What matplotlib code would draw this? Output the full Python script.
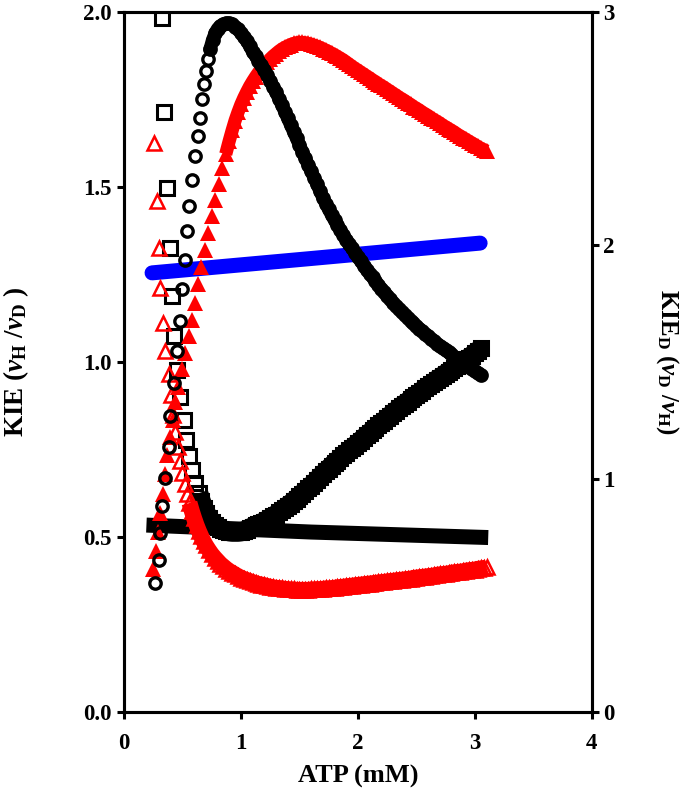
import matplotlib
matplotlib.use("Agg")
import matplotlib.pyplot as plt

plt.rcParams["font.family"] = ["Liberation Serif", "DejaVu Serif"]
plt.rcParams["font.weight"] = "bold"
plt.rcParams["mathtext.fontset"] = "custom"
plt.rcParams["mathtext.rm"] = "Liberation Serif:bold"
plt.rcParams["mathtext.it"] = "Liberation Serif:bold:italic"
plt.rcParams["mathtext.bf"] = "Liberation Serif:bold"

# KIE (vH/vD), open black circles
circ_x = [0.268, 0.296, 0.310, 0.325, 0.353, 0.381, 0.396, 0.424, 0.453, 0.475,
          0.496, 0.524, 0.538, 0.553, 0.585, 0.609, 0.630, 0.650, 0.665, 0.680,
          0.697, 0.715, 0.735, 0.757, 0.780,
          0.800, 0.825, 0.850, 0.875, 0.900, 0.925, 0.950, 0.975, 1.000, 1.025,
          1.050, 1.075, 1.100, 1.125, 1.150, 1.175, 1.200, 1.225, 1.250, 1.275,
          1.300, 1.325, 1.350, 1.375, 1.400, 1.425, 1.450, 1.475, 1.500, 1.525,
          1.550, 1.575, 1.600, 1.625, 1.650, 1.675, 1.700, 1.725, 1.750, 1.775,
          1.800, 1.825, 1.850, 1.875, 1.900, 1.925, 1.950, 1.975, 2.000, 2.025,
          2.050, 2.075, 2.100, 2.125, 2.150, 2.175, 2.200, 2.225, 2.250, 2.275,
          2.300, 2.325, 2.350, 2.375, 2.400, 2.425, 2.450, 2.475, 2.500, 2.525,
          2.550, 2.575, 2.600, 2.625, 2.650, 2.675, 2.700, 2.725, 2.750, 2.775,
          2.800, 2.825, 2.850, 2.875, 2.900, 2.925, 2.950, 2.975, 3.000, 3.025,
          3.050]
circ_y = [0.369, 0.436, 0.512, 0.588, 0.669, 0.759, 0.845, 0.940, 1.031, 1.117,
          1.208, 1.293, 1.374, 1.446, 1.520, 1.589, 1.646, 1.698, 1.751, 1.794,
          1.831, 1.865, 1.893, 1.920, 1.940,
          1.952, 1.960, 1.965, 1.968, 1.968, 1.965, 1.958, 1.950, 1.940, 1.929,
          1.917, 1.902, 1.886, 1.874, 1.861, 1.848, 1.835, 1.819, 1.803, 1.787,
          1.770, 1.752, 1.734, 1.715, 1.696, 1.677, 1.658, 1.639, 1.620, 1.601,
          1.582, 1.563, 1.545, 1.527, 1.508, 1.489, 1.470, 1.453, 1.436, 1.420,
          1.405, 1.391, 1.377, 1.363, 1.350, 1.337, 1.325, 1.312, 1.300, 1.288,
          1.276, 1.264, 1.253, 1.242, 1.231, 1.220, 1.210, 1.200, 1.190, 1.180,
          1.170, 1.161, 1.152, 1.143, 1.135, 1.127, 1.119, 1.111, 1.103, 1.096,
          1.088, 1.081, 1.074, 1.067, 1.060, 1.053, 1.047, 1.041, 1.034, 1.028,
          1.022, 1.016, 1.010, 1.004, 0.998, 0.992, 0.987, 0.981, 0.975, 0.970,
          0.964]

# reciprocal, open black squares
sq_x = [0.325, 0.344, 0.367, 0.396, 0.410, 0.424, 0.453, 0.481, 0.509, 0.530,
        0.553, 0.581, 0.609, 0.638, 0.660, 0.680, 0.700, 0.725, 0.750, 0.775,
        0.800, 0.825, 0.850, 0.875, 0.900, 0.925, 0.950, 0.975, 1.000, 1.025,
        1.050, 1.075, 1.100, 1.125, 1.150, 1.175, 1.200, 1.225, 1.250, 1.275,
        1.300, 1.325, 1.350, 1.375, 1.400, 1.425, 1.450, 1.475, 1.500, 1.525,
        1.550, 1.575, 1.600, 1.625, 1.650, 1.675, 1.700, 1.725, 1.750, 1.775,
        1.800, 1.825, 1.850, 1.875, 1.900, 1.925, 1.950, 1.975, 2.000, 2.025,
        2.050, 2.075, 2.100, 2.125, 2.150, 2.175, 2.200, 2.225, 2.250, 2.275,
        2.300, 2.325, 2.350, 2.375, 2.400, 2.425, 2.450, 2.475, 2.500, 2.525,
        2.550, 2.575, 2.600, 2.625, 2.650, 2.675, 2.700, 2.725, 2.750, 2.775,
        2.800, 2.825, 2.850, 2.875, 2.900, 2.925, 2.950, 2.975, 3.000, 3.025,
        3.050]
sq_y = [1.984, 1.713, 1.498, 1.327, 1.189, 1.074, 0.979, 0.902, 0.836, 0.779,
        0.731, 0.693, 0.655, 0.626, 0.603, 0.585, 0.570, 0.556, 0.545, 0.536,
        0.529, 0.524, 0.521, 0.518, 0.516, 0.515, 0.515, 0.515, 0.516, 0.518,
        0.522, 0.526, 0.530, 0.534, 0.537, 0.541, 0.545, 0.550, 0.555, 0.560,
        0.565, 0.571, 0.577, 0.583, 0.590, 0.596, 0.603, 0.610, 0.617, 0.625,
        0.632, 0.640, 0.647, 0.655, 0.663, 0.672, 0.680, 0.688, 0.696, 0.704,
        0.712, 0.719, 0.726, 0.734, 0.741, 0.748, 0.755, 0.762, 0.769, 0.776,
        0.784, 0.791, 0.798, 0.805, 0.812, 0.820, 0.826, 0.833, 0.840, 0.847,
        0.855, 0.861, 0.868, 0.875, 0.881, 0.887, 0.894, 0.900, 0.907, 0.912,
        0.919, 0.925, 0.931, 0.937, 0.943, 0.950, 0.955, 0.961, 0.967, 0.973,
        0.978, 0.984, 0.990, 0.996, 1.002, 1.008, 1.013, 1.019, 1.026, 1.031,
        1.040]

# filled red triangles
tri_x = [0.250, 0.270, 0.290, 0.310, 0.330, 0.350, 0.370, 0.390, 0.415, 0.440,
         0.465, 0.495, 0.525, 0.555, 0.580, 0.610, 0.635, 0.660, 0.690, 0.720,
         0.750, 0.780, 0.810, 0.840, 0.870, 0.900, 0.925, 0.950, 0.975, 1.000,
         1.025, 1.050, 1.075, 1.100, 1.125, 1.150, 1.175, 1.200, 1.225, 1.250,
         1.275, 1.300, 1.325, 1.350, 1.375, 1.400, 1.425, 1.450, 1.475, 1.500,
         1.525, 1.550, 1.575, 1.600, 1.625, 1.650, 1.675, 1.700, 1.725, 1.750,
         1.775, 1.800, 1.825, 1.850, 1.875, 1.900, 1.925, 1.950, 1.975, 2.000,
         2.025, 2.050, 2.075, 2.100, 2.125, 2.150, 2.175, 2.200, 2.225, 2.250,
         2.275, 2.300, 2.325, 2.350, 2.375, 2.400, 2.425, 2.450, 2.475, 2.500,
         2.525, 2.550, 2.575, 2.600, 2.625, 2.650, 2.675, 2.700, 2.725, 2.750,
         2.775, 2.800, 2.825, 2.850, 2.875, 2.900, 2.925, 2.950, 2.975, 3.000,
         3.025, 3.050, 3.075, 3.100]
tri_y = [0.410, 0.460, 0.515, 0.570, 0.625, 0.680, 0.735, 0.785, 0.835, 0.885,
         0.930, 0.980, 1.027, 1.075, 1.121, 1.170, 1.222, 1.272, 1.320, 1.368,
         1.416, 1.462, 1.510, 1.553, 1.594, 1.632, 1.662, 1.690, 1.714, 1.736,
         1.755, 1.772, 1.788, 1.802, 1.815, 1.827, 1.838, 1.848, 1.857, 1.866,
         1.874, 1.881, 1.888, 1.894, 1.899, 1.903, 1.907, 1.910, 1.912, 1.913,
         1.913, 1.912, 1.910, 1.908, 1.905, 1.902, 1.899, 1.895, 1.891, 1.887,
         1.882, 1.878, 1.873, 1.868, 1.863, 1.857, 1.851, 1.845, 1.839, 1.834,
         1.828, 1.823, 1.817, 1.812, 1.806, 1.801, 1.795, 1.790, 1.785, 1.779,
         1.774, 1.768, 1.763, 1.757, 1.752, 1.747, 1.741, 1.736, 1.730, 1.725,
         1.720, 1.714, 1.709, 1.704, 1.698, 1.693, 1.688, 1.683, 1.677, 1.672,
         1.667, 1.662, 1.657, 1.651, 1.646, 1.641, 1.636, 1.631, 1.626, 1.621,
         1.616, 1.611, 1.607, 1.603]

# reciprocal, open red triangles
otri_x = [0.259, 0.282, 0.296, 0.310, 0.333, 0.353, 0.381, 0.400, 0.420, 0.440,
          0.460, 0.480, 0.500, 0.520, 0.540, 0.560, 0.580, 0.600, 0.620, 0.640,
          0.660, 0.680, 0.700, 0.725, 0.750, 0.775, 0.800, 0.825, 0.850, 0.875,
          0.900, 0.925, 0.950, 0.975, 1.000, 1.025, 1.050, 1.075, 1.100, 1.125,
          1.150, 1.175, 1.200, 1.225, 1.250, 1.275, 1.300, 1.325, 1.350, 1.375,
          1.400, 1.425, 1.450, 1.475, 1.500, 1.525, 1.550, 1.575, 1.600, 1.625,
          1.650, 1.675, 1.700, 1.725, 1.750, 1.775, 1.800, 1.825, 1.850, 1.875,
          1.900, 1.925, 1.950, 1.975, 2.000, 2.025, 2.050, 2.075, 2.100, 2.125,
          2.150, 2.175, 2.200, 2.225, 2.250, 2.275, 2.300, 2.325, 2.350, 2.375,
          2.400, 2.425, 2.450, 2.475, 2.500, 2.525, 2.550, 2.575, 2.600, 2.625,
          2.650, 2.675, 2.700, 2.725, 2.750, 2.775, 2.800, 2.825, 2.850, 2.875,
          2.900, 2.925, 2.950, 2.975, 3.000, 3.025, 3.050, 3.075, 3.100]
otri_y = [1.627, 1.460, 1.327, 1.213, 1.112, 1.031, 0.965, 0.905, 0.850, 0.800,
          0.757, 0.718, 0.683, 0.652, 0.624, 0.598, 0.575, 0.554, 0.535, 0.518,
          0.503, 0.489, 0.477, 0.464, 0.452, 0.442, 0.433, 0.424, 0.417, 0.410,
          0.404, 0.399, 0.394, 0.389, 0.385, 0.381, 0.378, 0.375, 0.372, 0.369,
          0.367, 0.365, 0.363, 0.361, 0.359, 0.357, 0.356, 0.355, 0.354, 0.353,
          0.352, 0.351, 0.351, 0.350, 0.350, 0.350, 0.350, 0.350, 0.351, 0.351,
          0.352, 0.352, 0.353, 0.354, 0.354, 0.355, 0.356, 0.357, 0.358, 0.359,
          0.360, 0.361, 0.362, 0.363, 0.364, 0.365, 0.366, 0.367, 0.368, 0.369,
          0.370, 0.371, 0.372, 0.373, 0.374, 0.375, 0.376, 0.377, 0.378, 0.379,
          0.380, 0.381, 0.382, 0.384, 0.385, 0.386, 0.387, 0.388, 0.389, 0.390,
          0.391, 0.393, 0.394, 0.395, 0.396, 0.397, 0.399, 0.400, 0.401, 0.402,
          0.403, 0.405, 0.406, 0.407, 0.408, 0.410, 0.411, 0.412, 0.414]

# blue line and its reciprocal (black bar)
blue_x = [0.240, 1.600, 3.045]
blue_y = [1.255, 1.296, 1.340]
bar_x = [0.256, 1.600, 3.050]
bar_y = [0.534, 0.515, 0.500]

# where each marker series becomes a solid band
circ_band = 22
sq_band = 13
tri_band = 24
otri_band = 15

fig = plt.figure(figsize=(6.85, 7.96), dpi=100)
ax = fig.add_axes([0.181, 0.105, 0.683, 0.880])

ax.plot(blue_x, blue_y, color="#0000ff", lw=10.8, solid_capstyle="round", zorder=1)
ax.plot(bar_x, bar_y, color="black", lw=10.8, solid_capstyle="projecting", zorder=2)

ax.plot(sq_x[sq_band:], sq_y[sq_band:], color="black", lw=14, solid_capstyle="butt", zorder=3)
ax.plot(sq_x, sq_y, ls="none", marker="s", ms=10, mfc="none", mec="black", mew=2.2, zorder=3)

ax.plot(otri_x[otri_band:], otri_y[otri_band:], color="red", lw=11.5, solid_capstyle="butt", zorder=4)
ax.plot(otri_x, otri_y, ls="none", marker="^", ms=9.6, mfc="none", mec="red", mew=1.8, zorder=4)

ax.plot(tri_x[tri_band:], tri_y[tri_band:], color="red", lw=9.5, solid_capstyle="butt", zorder=5)
ax.plot(tri_x, tri_y, ls="none", marker="^", ms=11.5, mfc="red", mec="red", mew=0, zorder=5)

ax.plot(circ_x[circ_band:], circ_y[circ_band:], color="black", lw=9.5, solid_capstyle="round", zorder=6)
ax.plot(circ_x, circ_y, ls="none", marker="o", ms=8.2, mfc="none", mec="black", mew=2.4, zorder=6)

ax.set_xlim(0, 4)
ax.set_ylim(0, 2.0)
ax.set_xticks([0, 1, 2, 3, 4])
ax.set_yticks([0.0, 0.5, 1.0, 1.5, 2.0])
ax.set_yticklabels(["0.0", "0.5", "1.0", "1.5", "2.0"])

for s in ax.spines.values():
    s.set_linewidth(2.2)
ax.tick_params(direction="out", length=5, width=2.2, labelsize=16.5, pad=4)
ax.tick_params(axis="x", pad=10)

ax2 = ax.twinx()
ax2.set_ylim(0, 3)
ax2.set_yticks([0, 1, 2, 3])
for s in ax2.spines.values():
    s.set_linewidth(2.2)
ax2.tick_params(direction="out", length=5, width=2.2, labelsize=16.5, pad=3)

ax.set_xlabel("ATP (mM)", fontsize=19, fontweight="bold", labelpad=8)
ax.set_ylabel(r"KIE ($v_{\rm H}$ /$v_{\rm D}$ )", fontsize=19.5, fontweight="bold", labelpad=37)
ax2.set_ylabel(r"KIE$_{\rm D}$ ($v_{\rm D}$ /$v_{\rm H}$)", fontsize=18, fontweight="bold",
               rotation=270, labelpad=48)

fig.savefig("out.png", dpi=100)
